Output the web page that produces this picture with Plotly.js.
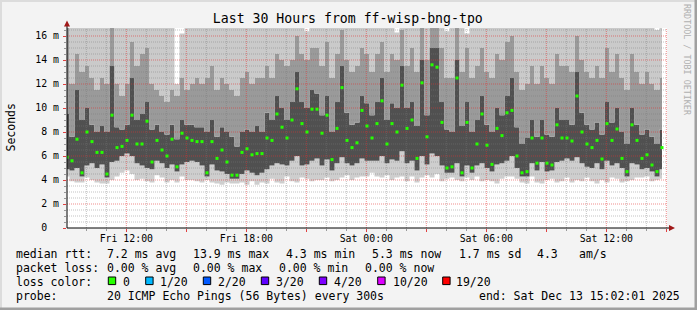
<!DOCTYPE html>
<html><head><meta charset="utf-8">
<script src="https://cdn.plot.ly/plotly-3.0.1.min.js"></script>
<style>html,body{margin:0;padding:0;background:#f3f3f3;}#chart{width:697px;height:310px;}</style>
</head><body><div id="chart"></div>
<script>
// ---- data (ms), one value every 15 minutes starting at startTime ----
const startTime = '2025-12-12 09:02:01';
const endTime = '2025-12-13 15:02:01';
const stepMinutes = 15;

const median = [
5.9,5.6,7.4,4.6,8.0,7.2,6.3,6.3,4.5,9.4,
6.7,6.8,7.3,9.4,7.0,7.0,8.9,5.5,7.3,6.5,
6.0,7.4,5.1,7.9,7.5,7.3,7.2,7.2,4.6,7.2,
5.8,6.5,5.5,4.4,4.4,6.3,6.6,6.1,6.2,6.2,
7.5,7.3,9.5,8.4,7.5,9.0,11.6,8.7,8.0,9.9,
9.9,7.9,9.4,5.7,8.3,11.7,7.3,6.7,7.1,9.8,
8.5,7.5,8.7,10.6,7.0,8.7,8.0,11.9,8.3,9.0,
5.8,12.1,7.6,13.6,13.4,8.8,5.0,5.1,12.5,4.6,
8.8,5.0,7.0,9.5,6.9,5.3,8.3,7.7,9.6,9.8,
6.0,4.6,4.7,7.5,5.4,7.5,5.4,5.25,8.6,7.5,
7.5,7.25,11.0,8.0,7.0,6.7,7.3,5.75,8.7,7.3,
8.25,5.8,4.7,8.6,7.3,5.8,6.1,5.25,4.7,6.7];

const pingMin = [
4.3,3.9,3.8,3.8,4.2,4.0,3.8,3.7,3.7,4.0,
4.3,4.6,4.8,4.5,4.0,4.1,3.9,3.8,4.4,4.2,
3.8,4.0,3.8,4.3,4.0,4.0,3.9,3.8,4.0,3.8,
3.7,3.6,3.8,3.7,3.7,3.8,3.6,3.9,3.6,3.8,
3.7,4.1,3.8,3.7,4.3,3.9,3.8,4.2,4.1,3.9,
4.0,4.0,4.2,3.9,4.0,4.2,4.4,4.0,4.2,4.3,
4.3,4.6,4.3,4.2,4.4,4.0,4.2,4.3,3.9,4.3,
3.8,4.2,4.4,4.2,4.5,3.9,4.1,4.2,4.0,3.9,
4.2,4.0,4.3,3.9,4.0,3.9,3.7,4.1,4.3,4.3,
4.1,3.8,3.7,4.3,3.8,3.7,4.0,4.1,3.8,3.9,
4.2,3.8,4.0,3.9,4.2,3.9,3.7,4.0,3.8,4.2,
4.1,3.8,3.9,4.0,4.2,4.2,4.3,3.9,4.0,4.1];

const darkLow = [
4.9,4.8,5.0,4.3,5.2,5.4,5.0,5.3,4.2,5.5,
5.6,6.0,6.2,6.0,5.4,5.2,5.0,4.9,5.6,5.4,
5.0,5.3,4.7,5.3,5.5,5.6,5.5,5.2,4.3,5.3,
4.8,4.7,4.5,4.1,4.1,4.5,4.8,4.6,4.4,4.6,
4.9,5.2,5.4,5.3,5.2,5.6,6.0,5.2,5.3,5.6,
5.8,5.2,5.7,4.8,5.4,5.9,5.4,5.2,5.4,5.8,
5.6,5.6,5.6,6.0,5.4,5.7,5.6,6.4,5.4,5.6,
4.8,6.0,5.3,6.2,6.0,5.2,4.6,4.6,5.4,4.3,
5.2,4.6,5.2,5.4,5.0,4.7,5.3,5.4,5.6,6.0,
5.0,4.3,4.3,5.4,4.8,5.5,4.7,4.8,5.5,5.6,
5.8,5.6,5.9,5.4,5.1,5.0,5.4,4.9,5.6,5.2,
5.4,5.0,4.3,5.4,5.3,4.9,5.0,4.7,4.3,4.9];

const darkHigh = [
9.5,7.6,11.5,9.0,10.0,8.6,8.0,8.5,8.0,13.5,
8.4,8.2,8.6,12.5,9.0,9.5,10.5,8.2,8.6,8.0,
7.8,8.6,7.4,9.0,8.6,8.6,8.4,8.4,8.0,9.0,
7.6,8.4,8.0,7.6,6.8,8.0,8.2,8.0,8.5,8.0,
9.6,9.0,11.0,10.0,9.0,10.5,13.0,10.5,10.0,11.5,
11.2,9.4,11.0,8.0,10.5,13.5,9.6,8.6,8.8,11.0,
10.4,9.4,10.5,12.5,9.0,10.4,10.0,13.5,10.0,10.5,
8.5,14.0,9.4,15.0,15.0,10.5,8.2,8.0,14.0,8.5,
10.5,8.0,9.0,11.0,8.6,8.0,10.0,9.4,11.0,12.5,
8.4,7.0,7.5,9.0,7.6,9.0,7.8,7.6,10.0,9.0,
9.0,8.6,13.0,9.6,8.6,8.2,8.8,7.8,10.5,8.8,
10.0,8.0,7.0,10.0,8.6,7.8,8.2,7.6,7.0,8.2];

const midHigh = [
16.7,12.0,14.5,13.0,13.5,12.5,11.5,12.5,12.0,16.7,
12.0,11.0,12.0,15.5,13.5,14.5,15.0,12.0,11.5,11.0,
10.5,11.5,11.0,12.5,11.5,12.0,12.5,12.0,12.5,13.5,
11.5,12.5,12.0,11.5,11.0,12.5,13.0,12.0,12.5,12.5,
13.5,12.5,14.5,14.0,13.5,14.0,16.0,14.5,14.0,15.0,
15.0,13.5,15.5,12.5,14.5,16.5,14.0,13.0,13.5,15.0,
14.5,13.0,14.5,15.5,13.0,14.5,14.0,16.5,13.5,15.0,
13.0,16.7,14.0,16.7,16.7,15.0,12.5,12.5,16.7,13.0,
15.0,12.5,13.5,15.0,13.0,12.5,14.5,14.0,15.5,16.0,
13.0,11.5,12.0,13.5,12.0,13.5,12.5,12.0,14.5,13.5,
13.5,13.0,16.0,14.0,13.0,12.5,13.5,12.5,15.0,13.0,
14.5,12.5,11.5,14.5,13.0,12.0,13.0,12.0,11.5,12.5];

const pingMax = [
17,17,17,17,17,17,17,17,17,17,
17,17,17,17,17,17,17,17,17,17,
17,17,12.0,16.2,17,17,17,17,17,17,
17,17,17,17,17,17,17,17,17,17,
17,17,17,17,17,17,17,17,16.4,17,
17,17,17,17,17,17,17,17,17,17,
17,17,17,17,17,17,16.3,17,17,17,
17,17,17,17,17,17,16.4,17,17,17,
16.2,17,17,17,17,17,17,17,17,17,
17,17,17,17,17,17,17,17,17,17,
17,17,17,17,17,17,17,17,17,17,
17,17,17,17,17,17,17,17,16.5,17];

const xTickLabels = ['Fri 12:00','','Fri 18:00','','Sat 00:00','','Sat 06:00','','Sat 12:00',''];
const yTickValues = [0,2,4,6,8,10,12,14,16];
const yTickLabels = ['0\u00a0\u00a0','2 m','4 m','6 m','8 m','10 m','12 m','14 m','16 m'];

const statsRtt = ['median rtt:','7.2 ms avg','13.9 ms max','4.3 ms min','5.3 ms now','1.7 ms sd','4.3','am/s'];
const statsLoss = ['packet loss:','0.00 % avg','0.00 % max','0.00 % min','0.00 % now'];
const lossLabels = ['0','1/20','2/20','3/20','4/20','10/20','19/20'];
const lossColors = ['#26ff00','#00b8ff','#0059ff','#5e00ff','#7e00ff','#dd00ff','#ff0000'];
const probeText = ['probe:','20 ICMP Echo Pings (56 Bytes) every 300s','end: Sat Dec 13 15:02:01 2025'];

// ---- helpers ----
function parseT(s){return Date.UTC(+s.slice(0,4),+s.slice(5,7)-1,+s.slice(8,10),+s.slice(11,13),+s.slice(14,16),+s.slice(17,19));}
function fmt(ms){const d=new Date(ms);const p=n=>String(n).padStart(2,'0');
  return d.getUTCFullYear()+'-'+p(d.getUTCMonth()+1)+'-'+p(d.getUTCDate())+' '+p(d.getUTCHours())+':'+p(d.getUTCMinutes())+':'+p(d.getUTCSeconds());}
const t0 = parseT(startTime), tEnd = parseT(endTime);
const times = median.map((_,i)=>fmt(t0 + i*stepMinutes*60000));
const H = 3600000;
const firstHour = Math.ceil(t0/H)*H;
const major3=[], minorHours=[];
for(let t=firstHour;t<=tEnd;t+=H){
  const hr = new Date(t).getUTCHours();
  if(hr%3===0) major3.push(fmt(t)); else minorHours.push(fmt(t));
}
const yTop = 50/3;
const yMajor=[], yMinor=[];
for(let v=0.5; v<yTop; v+=0.5){ if(Math.abs(v/2-Math.round(v/2))<1e-9) yMajor.push(v); else yMinor.push(v); }

// ---- traces ----
const band = (y, fill, color) => ({x:times, y:y, type:'scatter', mode:'lines',
  line:{width:0, shape:'hvh'}, fill:fill, fillcolor:color, hoverinfo:'skip'});
const traces = [
  band(pingMin, 'none', 'rgba(0,0,0,0)'),
  band(darkLow, 'tonexty', '#cecece'),
  band(darkHigh, 'tonexty', '#505050'),
  band(midHigh, 'tonexty', '#9a9a9a'),
  band(pingMax, 'tonexty', '#cacaca')
];
function vLines(vals){const x=[],y=[];vals.forEach(v=>{x.push(v,v,null);y.push(0,yTop,null);});return {x,y};}
function hLines(vals){const x=[],y=[];vals.forEach(v=>{x.push(startTime,endTime,null);y.push(v,v,null);});return {x,y};}
const gridMinorColor='rgba(120,120,120,0.45)', gridMajorColor='rgba(225,50,50,0.55)';
[[vLines(minorHours),gridMinorColor],[hLines(yMinor),gridMinorColor],[vLines(major3),gridMajorColor],[hLines(yMajor),gridMajorColor]].forEach(([g,c])=>{
  traces.push({x:g.x,y:g.y,type:'scatter',mode:'lines',line:{color:c,width:1,dash:'1px,1px'},hoverinfo:'skip',connectgaps:false});
});
traces.push({x:times, y:median, type:'scatter', mode:'markers',
  marker:{symbol:'square', size:3, color:lossColors[0], line:{width:0}}, hoverinfo:'skip'});

// ---- layout helpers (pixel -> paper) ----
const ML=67, MT=28, PW=600, PH=200;
const px = v => (v-ML)/PW;
const py = v => (MT+PH-v)/PH;
const mono = 'DejaVu Sans Mono, monospace';
const ann = [];
function txt(x,y,t,size,extra){ann.push(Object.assign({xref:'paper',yref:'paper',x:px(x),y:py(y),text:t,showarrow:false,
  xanchor:'left',yanchor:'middle',borderpad:0,borderwidth:0,font:{family:mono,size:size||11.5,color:'#000'}},extra||{}));}
const rttX=[16,107.3,192.7,286,372,458.7,537,579.3];
statsRtt.forEach((t,i)=>txt(rttX[i],254,t));
const lossX=[16,107.3,193.3,279.3,365.3];
statsLoss.forEach((t,i)=>txt(lossX[i],268.3,t));
txt(16,282,'loss color:');
const boxX=[108.3,145.7,203.3,261.3,319.3,377.7,442.7];
const lblX=[123.3,160,218.3,276,334.3,392.7,456];
lossLabels.forEach((t,i)=>txt(lblX[i],282,t));
txt(16,296.3,probeText[0]); txt(107.3,296.3,probeText[1]); txt(478.7,296.3,probeText[2]);
ann.push({xref:'paper',yref:'paper',x:px(10.5),y:py(128),text:'Seconds',textangle:-90,showarrow:false,
  xanchor:'center',yanchor:'middle',borderpad:0,borderwidth:0,font:{family:mono,size:11.5,color:'#000'}});
ann.push({xref:'paper',yref:'paper',x:px(686.5),y:py(59.5),text:'RRDTOOL / TOBI OETIKER',textangle:90,showarrow:false,
  xanchor:'center',yanchor:'middle',borderpad:0,borderwidth:0,font:{family:mono,size:8.4,color:'#b0b0b0'}});

const shapes = [];
boxX.forEach((x,i)=>shapes.push({type:'rect',xref:'paper',yref:'paper',x0:px(x),x1:px(x+7.4),y0:py(277),y1:py(284.6),
  fillcolor:lossColors[i],line:{color:'#000',width:1}}));
shapes.push({type:'line',xref:'paper',yref:'paper',x0:px(67),x1:px(67),y0:py(228),y1:py(25),line:{color:'#000',width:1}});
shapes.push({type:'path',xref:'paper',yref:'paper',path:'M '+px(64)+' '+py(26.5)+' L '+px(70)+' '+py(26.5)+' L '+px(67)+' '+py(20.5)+' Z',
  fillcolor:'#a01818',line:{color:'#a01818',width:0}});
shapes.push({type:'line',xref:'paper',yref:'paper',x0:px(67),x1:px(670),y0:py(228),y1:py(228),line:{color:'#000',width:1}});
shapes.push({type:'path',xref:'paper',yref:'paper',path:'M '+px(669)+' '+py(225)+' L '+px(669)+' '+py(231)+' L '+px(675)+' '+py(228)+' Z',
  fillcolor:'#a01818',line:{color:'#a01818',width:0}});
shapes.push({type:'rect',xref:'paper',yref:'paper',x0:px(0),x1:px(697),y0:py(0),y1:py(2),fillcolor:'#dcdcdc',line:{width:0},layer:'below'});
shapes.push({type:'rect',xref:'paper',yref:'paper',x0:px(0),x1:px(2),y0:py(0),y1:py(310),fillcolor:'#dcdcdc',line:{width:0},layer:'below'});
shapes.push({type:'rect',xref:'paper',yref:'paper',x0:px(0),x1:px(697),y0:py(307.5),y1:py(310),fillcolor:'#a0a0a0',line:{width:0},layer:'below'});
shapes.push({type:'rect',xref:'paper',yref:'paper',x0:px(694.5),x1:px(697),y0:py(0),y1:py(310),fillcolor:'#a0a0a0',line:{width:0},layer:'below'});

const tickFont = {family:mono,size:9.85,color:'#000'};
const layout = {
  width:697, height:310, margin:{l:ML,r:697-ML-PW,t:MT,b:310-MT-PH,pad:0},
  paper_bgcolor:'#f3f3f3', plot_bgcolor:'#ffffff', showlegend:false, hovermode:false,
  title:{text:'Last 30 Hours from ff-wisp-bng-tpo', font:{family:mono,size:13.2,color:'#000'},
    xref:'container', yref:'container', x:347.8/697, xanchor:'center', y:1-18.3/310, yanchor:'middle'},
  xaxis:{type:'date', range:[startTime,endTime], showgrid:false, zeroline:false, showline:false,
    tickmode:'array', tickvals:major3, ticktext:xTickLabels, ticks:'outside', ticklen:3, tickcolor:'#e04040', tickwidth:1,
    tickfont:tickFont, tickangle:0, ticklabelstandoff:-2,
    minor:{tickmode:'array', tickvals:minorHours, ticks:'outside', ticklen:2, tickcolor:'#999', showgrid:false}, fixedrange:true},
  yaxis:{range:[0,yTop], showgrid:false, zeroline:false, showline:false,
    tickmode:'array', tickvals:yTickValues, ticktext:yTickLabels, ticks:'outside', ticklen:3, tickcolor:'#e04040', tickwidth:1,
    tickfont:tickFont, ticklabelstandoff:2,
    minor:{tickmode:'array', tickvals:yMinor, ticks:'outside', ticklen:2, tickcolor:'#999', showgrid:false}, fixedrange:true},
  annotations:ann, shapes:shapes
};
Plotly.newPlot('chart', traces, layout, {staticPlot:true, displayModeBar:false});
</script></body></html>
